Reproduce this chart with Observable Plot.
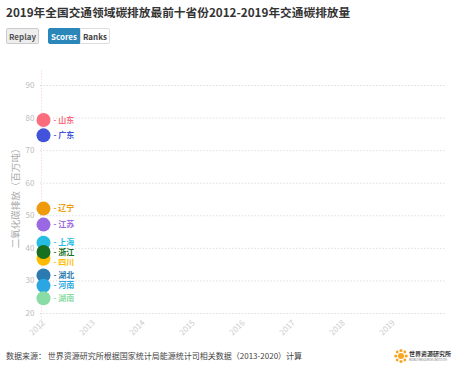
<!DOCTYPE html>
<html><head><meta charset="utf-8">
<script src="https://cdn.jsdelivr.net/npm/d3@7"></script>
<script src="https://cdn.jsdelivr.net/npm/@observablehq/plot@0.6"></script>
<style>
body{margin:0;background:#fff;font-family:"Noto Sans CJK SC","Noto Sans",sans-serif;width:455px;height:367px;position:relative;overflow:hidden}
#title{position:absolute;left:6px;top:3px;font-size:11.7px;font-weight:bold;color:#333;white-space:nowrap}
.btn{position:absolute;top:28px;height:16px;line-height:16px;font-size:8px;font-weight:bold;text-align:center;box-sizing:border-box;border-radius:2px}
#replay{left:6px;width:33px;background:#eee;border:1px solid #ccc;color:#555}
#scores{left:48px;width:32px;background:#2b86b9;border:1px solid #2b86b9;color:#fff;border-radius:2px 0 0 2px}
#ranks{left:80px;width:30px;background:#fff;border:1px solid #ddd;color:#444;border-radius:0 2px 2px 0}
#chart{position:absolute;left:0;top:55px}
#ylab{position:absolute;left:15px;top:196px;transform:translate(-50%,-50%) rotate(-90deg);font-size:9.5px;color:#aaa;white-space:nowrap}
#source{position:absolute;left:6px;top:350px;font-size:8px;color:#444;white-space:nowrap}
#logo{position:absolute;left:394px;top:346px}
</style></head>
<body>
<div id="title">2019年全国交通领域碳排放最前十省份2012-2019年交通碳排放量</div>
<div class="btn" id="replay">Replay</div>
<div class="btn" id="scores">Scores</div>
<div class="btn" id="ranks">Ranks</div>
<div id="chart"></div>
<div id="ylab">二氧化碳排放（百万吨）</div>
<div id="source">数据来源： 世界资源研究所根据国家统计局能源统计司相关数据（2013-2020）计算</div>
<div id="logo"><svg width="60" height="18">
<g fill="#f5a623"><circle cx="7" cy="9" r="3"/><circle cx="7" cy="3.5" r="1.6"/><circle cx="7" cy="14.5" r="1.6"/><circle cx="1.8" cy="9" r="1.6"/><circle cx="12.2" cy="9" r="1.6"/><circle cx="3.2" cy="5" r="1.4"/><circle cx="10.8" cy="5" r="1.4"/><circle cx="3.2" cy="13" r="1.4"/><circle cx="10.8" cy="13" r="1.4"/></g>
<text x="15" y="9" font-size="6" font-weight="bold" fill="#333" font-family="Noto Sans CJK SC">世界资源研究所</text>
<text x="15" y="14" font-size="2.6" fill="#777" font-family="Noto Sans">WORLD RESOURCES INSTITUTE</text>
</svg></div>
<script>
const provinces = ["山东","广东","辽宁","江苏","上海","四川","浙江","湖北","河南","湖南"];
const emissions2012 = [79.4, 74.7, 52.2, 47.3, 41.7, 36.8, 38.9, 31.7, 28.5, 24.7];
const provinceColors = ["#fb6d7c","#4253db","#ef9a0c","#9a68e2","#25bde3","#ffbb00","#17701f","#2b7bb0","#2aa7e2","#8adca6"];
const years = [2012, 2013, 2014, 2015, 2016, 2017, 2018, 2019];
const yTicks = [20, 30, 40, 50, 60, 70, 80, 90];
const currentYear = 2012;

const data = provinces.map((p, i) => ({province: p, value: emissions2012[i], color: provinceColors[i], year: currentYear}));

// simple label collision avoidance (minimum vertical gap in value units)
const minGap = 2.95;
const labels = data.map(d => ({...d, labelY: d.value})).sort((a, b) => b.value - a.value);
for (let i = 1; i < labels.length; i++) {
  if (labels[i - 1].labelY - labels[i].labelY < minGap) labels[i].labelY = labels[i - 1].labelY - minGap;
}

const chart = Plot.plot({
  width: 455,
  height: 290,
  marginLeft: 40,
  marginBottom: 28,
  marginTop: 10,
  marginRight: 10,
  style: {fontFamily: "'Noto Sans CJK SC','Noto Sans',sans-serif", background: "#fff"},
  x: {domain: [2012, 2020], range: [43, 443]},
  y: {domain: [20, 90], range: [258, 30]},
  marks: [
    Plot.ruleY(yTicks, {x1: 2011.94, x2: 2020.04, stroke: "#d8d8d8", strokeDasharray: "1.2,2", strokeWidth: 1}),
    Plot.ruleX([currentYear], {y1: 15, y2: 95, dx: -2, stroke: "#f3c9cf", strokeDasharray: "1,2", strokeWidth: 1}),
    Plot.axisY(yTicks, {tickSize: 0, tickPadding: 6, fill: "#bbb", fontSize: 8, label: null}),
    Plot.axisX(years, {tickSize: 0, tickPadding: 4, tickRotate: -45, fill: "#ccc", fontSize: 8, label: null, tickFormat: d => String(d)}),
    Plot.dot(data, {x: "year", y: "value", r: 7, fill: d => d.color, stroke: "none"}),
    Plot.text(labels, {x: "year", y: "labelY", text: d => "- " + d.province, dx: 10, textAnchor: "start", fill: d => d.color, fontSize: 8, fontWeight: "bold"})
  ]
});
document.getElementById("chart").appendChild(chart);
</script>
</body></html>
